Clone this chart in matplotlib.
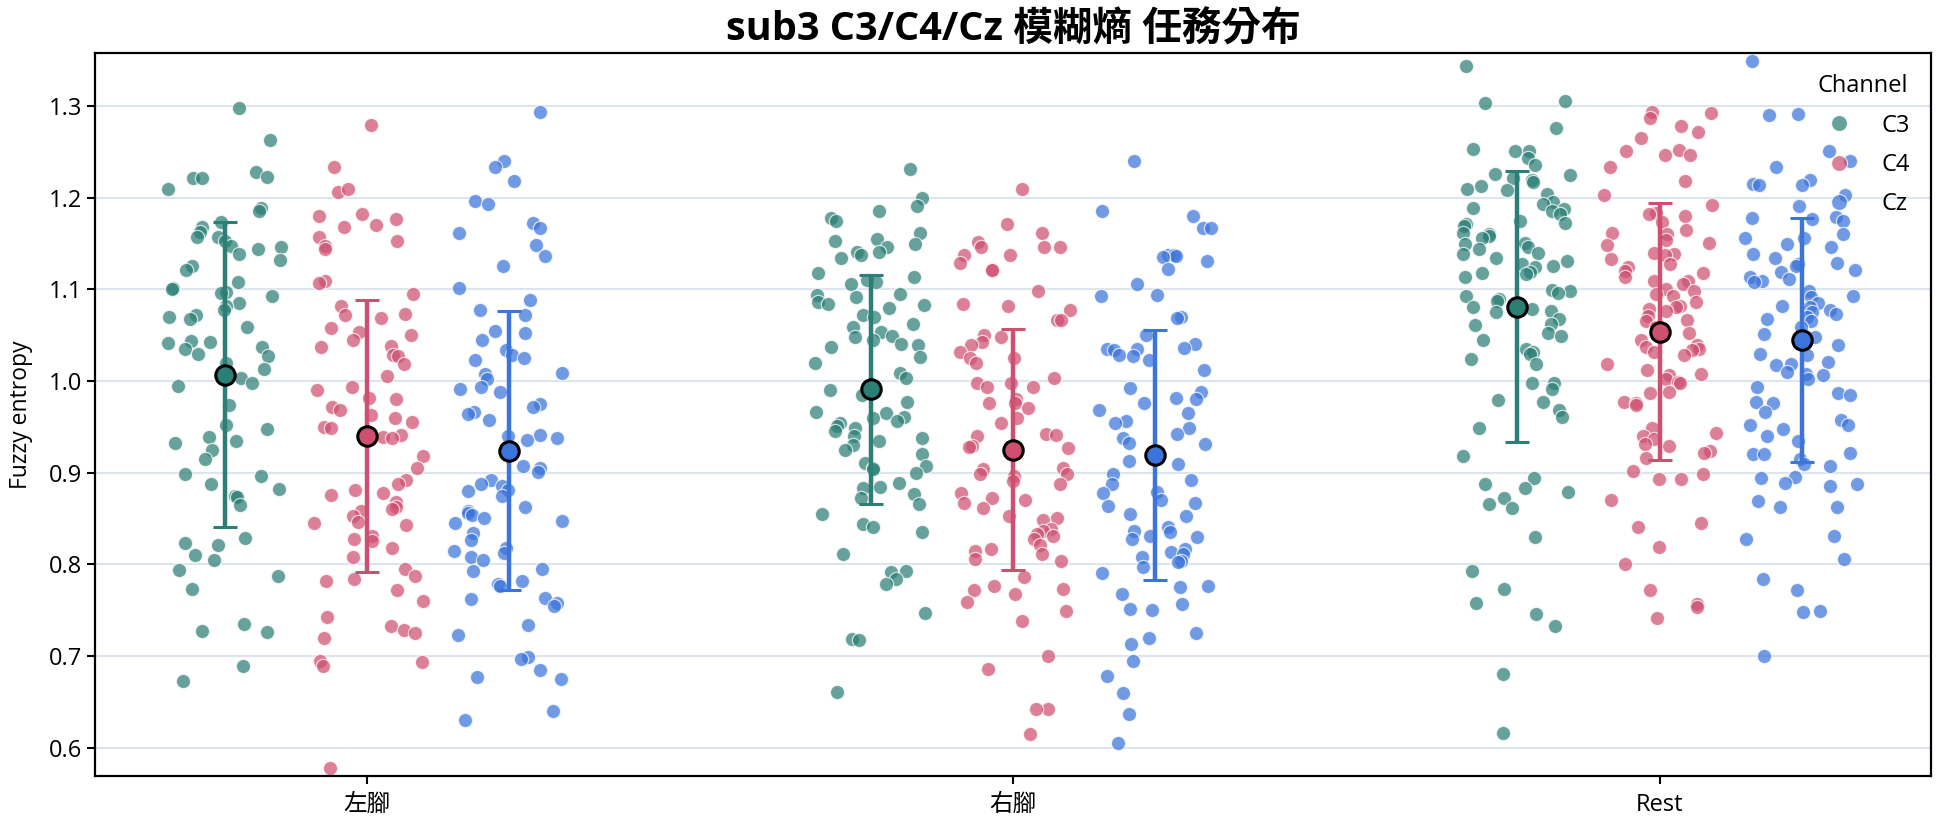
import numpy as np
import matplotlib
matplotlib.use("Agg")
import matplotlib.pyplot as plt
from matplotlib.lines import Line2D

plt.rcParams['font.family'] = ['Open Sans', 'Noto Sans CJK TC', 'DejaVu Sans']

tasks = ["左腳", "右腳", "Rest"]
channels = ["C3", "C4", "Cz"]

# ---- per-trial fuzzy entropy values ----
left_C3 = [1.2975, 1.2635, 1.2285, 1.221, 1.221, 1.2225, 1.209, 1.1885, 1.185, 1.1735,
           1.1685, 1.1625, 1.1575, 1.1575, 1.1525, 1.1475, 1.1465, 1.1435, 1.1385, 1.1315,
           1.125, 1.121, 1.1075, 1.1015, 1.1, 1.0975, 1.0965, 1.0925, 1.085, 1.0815,
           1.0775, 1.0725, 1.07, 1.0675, 1.059, 1.0435, 1.0425, 1.0415, 1.0375, 1.035,
           1.029, 1.0275, 1.02, 1.0135, 1.0035, 0.9975, 0.995, 0.9735, 0.9525, 0.9475,
           0.9385, 0.935, 0.9325, 0.925, 0.915, 0.8985, 0.8965, 0.8875, 0.8825, 0.875,
           0.8735, 0.865, 0.8285, 0.8235, 0.821, 0.81, 0.805, 0.7935, 0.7875, 0.7725,
           0.735, 0.7275, 0.726, 0.6885, 0.6725]
left_C4 = [1.279, 1.2335, 1.206, 1.209, 1.1825, 1.18, 1.1765, 1.17, 1.1685, 1.1575,
           1.1525, 1.1475, 1.1435, 1.109, 1.1065, 1.095, 1.0815, 1.0725, 1.0735, 1.069,
           1.0575, 1.0535, 1.05, 1.045, 1.0385, 1.0375, 1.0285, 1.0275, 1.0185, 1.005,
           0.9935, 0.99, 0.981, 0.98, 0.9715, 0.9685, 0.9625, 0.96, 0.955, 0.95,
           0.9485, 0.9415, 0.9385, 0.9375, 0.9185, 0.9055, 0.8925, 0.8875, 0.881, 0.8775,
           0.876, 0.8675, 0.8625, 0.86, 0.8585, 0.8525, 0.8465, 0.845, 0.8425, 0.831,
           0.8275, 0.825, 0.8175, 0.8075, 0.795, 0.7875, 0.7835, 0.7815, 0.7715, 0.76,
           0.7425, 0.7325, 0.7285, 0.725, 0.72, 0.695, 0.6935, 0.6885, 0.5775]
left_Cz = [1.2935, 1.24, 1.2335, 1.2185, 1.1965, 1.1935, 1.1725, 1.1665, 1.1615, 1.1485,
           1.136, 1.125, 1.1015, 1.0885, 1.0775, 1.0725, 1.055, 1.0525, 1.045, 1.0335,
           1.0285, 1.025, 1.0225, 1.0085, 1.0075, 1.0025, 0.9935, 0.9915, 0.9885, 0.975,
           0.9715, 0.9665, 0.9635, 0.9575, 0.9415, 0.94, 0.9375, 0.936, 0.9075, 0.9055,
           0.9005, 0.8925, 0.8875, 0.885, 0.8815, 0.88, 0.875, 0.8625, 0.8585, 0.8565,
           0.8535, 0.85, 0.8475, 0.845, 0.834, 0.826, 0.8175, 0.815, 0.8125, 0.8075,
           0.805, 0.795, 0.7925, 0.7815, 0.7785, 0.776, 0.7635, 0.7625, 0.7575, 0.755,
           0.7335, 0.7225, 0.6985, 0.6965, 0.685, 0.6775, 0.675, 0.64, 0.63]

right_C3 = [1.2312, 1.2, 1.1909, 1.1859, 1.1779, 1.175, 1.1612, 1.1551, 1.1533, 1.1496,
            1.146, 1.1413, 1.1406, 1.137, 1.1344, 1.1178, 1.1134, 1.1105, 1.108, 1.1062,
            1.0953, 1.0935, 1.0917, 1.0862, 1.0837, 1.0826, 1.0801, 1.0717, 1.0699, 1.062,
            1.0591, 1.0536, 1.0489, 1.0475, 1.0446, 1.0402, 1.0391, 1.0366, 1.0264, 1.0192,
            1.0083, 1.0029, 0.9902, 0.9848, 0.9775, 0.9667, 0.9649, 0.9612, 0.9594, 0.956,
            0.9543, 0.9507, 0.9489, 0.9453, 0.9399, 0.938, 0.9344, 0.9301, 0.9243, 0.9199,
            0.9109, 0.9072, 0.9054, 0.9036, 0.9, 0.8891, 0.8844, 0.8837, 0.8764, 0.8721,
            0.8656, 0.8547, 0.8438, 0.8402, 0.8348, 0.8112, 0.7931, 0.7913, 0.7841, 0.7786,
            0.7467, 0.7188, 0.717, 0.6601]
right_C4 = [1.2094, 1.1714, 1.1612, 1.1514, 1.1467, 1.1467, 1.146, 1.137, 1.138, 1.1286,
            1.1207, 1.1214, 1.0982, 1.0815, 1.0844, 1.0779, 1.067, 1.067, 1.05, 1.0482,
            1.0428, 1.0391, 1.0319, 1.0246, 1.0246, 1.0192, 1.0029, 0.9975, 0.9975, 0.9938,
            0.9931, 0.9801, 0.9764, 0.9757, 0.9703, 0.9594, 0.9543, 0.9417, 0.941, 0.94,
            0.929, 0.9279, 0.9272, 0.9054, 0.9036, 0.8989, 0.8982, 0.8964, 0.8909, 0.8873,
            0.8783, 0.8728, 0.8699, 0.8674, 0.8612, 0.8529, 0.8504, 0.8482, 0.8384, 0.8366,
            0.833, 0.8312, 0.8275, 0.8214, 0.8167, 0.8141, 0.8112, 0.8058, 0.804, 0.7859,
            0.7768, 0.7732, 0.7714, 0.7678, 0.7587, 0.7489, 0.7377, 0.6996, 0.6862, 0.6417,
            0.6417, 0.6145]
right_Cz = [1.2402, 1.1859, 1.1804, 1.1667, 1.167, 1.138, 1.137, 1.1359, 1.1351, 1.1308,
            1.1225, 1.1062, 1.0935, 1.0924, 1.0699, 1.0688, 1.05, 1.0409, 1.0355, 1.0344,
            1.0344, 1.0337, 1.0283, 1.0272, 1.0228, 1.012, 0.992, 0.9884, 0.9812, 0.9801,
            0.9757, 0.9685, 0.9649, 0.956, 0.9543, 0.9489, 0.9417, 0.938, 0.9326, 0.9308,
            0.9127, 0.909, 0.8989, 0.8917, 0.8873, 0.8793, 0.8783, 0.8699, 0.8674, 0.8638,
            0.8547, 0.8529, 0.8402, 0.8366, 0.8348, 0.8312, 0.8293, 0.8275, 0.8167, 0.813,
            0.8112, 0.8076, 0.804, 0.8022, 0.7967, 0.7902, 0.7768, 0.775, 0.7678, 0.7569,
            0.7514, 0.7504, 0.7254, 0.7199, 0.7127, 0.6946, 0.6779, 0.6591, 0.6366, 0.6054]

rest_C3 = [1.3438, 1.3036, 1.3054, 1.2765, 1.2533, 1.2512, 1.2505, 1.2432, 1.236, 1.2259,
           1.2244, 1.2215, 1.2197, 1.2172, 1.2125, 1.21, 1.2089, 1.2042, 1.1955, 1.1933,
           1.189, 1.1872, 1.1853, 1.1817, 1.1745, 1.1727, 1.1709, 1.1691, 1.1618, 1.16,
           1.1582, 1.1564, 1.151, 1.1492, 1.1463, 1.1438, 1.1401, 1.1383, 1.1347, 1.1311,
           1.1275, 1.1257, 1.1239, 1.1184, 1.1174, 1.1166, 1.113, 1.0993, 1.0978, 1.0957,
           1.0931, 1.0895, 1.0877, 1.0805, 1.0787, 1.0768, 1.075, 1.0678, 1.0624, 1.0606,
           1.0523, 1.0486, 1.0443, 1.0353, 1.0316, 1.0291, 1.0244, 1.0183, 0.998, 0.9973,
           0.9908, 0.9792, 0.9774, 0.9684, 0.9611, 0.9489, 0.9181, 0.8938, 0.8873, 0.8837,
           0.8793, 0.8728, 0.8663, 0.8612, 0.8301, 0.7931, 0.7732, 0.7576, 0.746, 0.7322,
           0.6808, 0.6156]
rest_C4 = [1.292, 1.2931, 1.2866, 1.2787, 1.2722, 1.2656, 1.2523, 1.2505, 1.2461, 1.2468,
           1.2331, 1.2179, 1.2027, 1.1926, 1.1835, 1.1817, 1.1799, 1.1738, 1.1644, 1.1618,
           1.1607, 1.1535, 1.151, 1.1484, 1.1401, 1.1383, 1.1376, 1.1329, 1.1275, 1.1246,
           1.1195, 1.1174, 1.113, 1.1094, 1.1087, 1.1058, 1.1004, 1.0986, 1.095, 1.0932,
           1.0859, 1.0823, 1.0805, 1.0787, 1.0769, 1.0714, 1.0667, 1.0653, 1.0588, 1.0523,
           1.0479, 1.0443, 1.0389, 1.0371, 1.0353, 1.0335, 1.0316, 1.028, 1.019, 1.0118,
           1.0081, 1.0063, 1.0027, 0.9991, 0.9973, 0.9882, 0.9864, 0.9774, 0.9756, 0.9738,
           0.9489, 0.9435, 0.9399, 0.9362, 0.9308, 0.929, 0.9236, 0.9217, 0.9163, 0.9018,
           0.8982, 0.8928, 0.8928, 0.8699, 0.8446, 0.8402, 0.8192, 0.8004, 0.7714, 0.7569,
           0.7533, 0.7417]
rest_Cz = [1.3488, 1.291, 1.2902, 1.2512, 1.2396, 1.2331, 1.2197, 1.2143, 1.215, 1.2136,
           1.2027, 1.1908, 1.1788, 1.1781, 1.1763, 1.1745, 1.16, 1.1564, 1.1557, 1.1499,
           1.1463, 1.1391, 1.1347, 1.1293, 1.1275, 1.1257, 1.121, 1.1184, 1.113, 1.1112,
           1.1094, 1.1076, 1.0986, 1.0931, 1.0913, 1.0848, 1.0823, 1.0805, 1.0776, 1.075,
           1.0732, 1.0703, 1.0678, 1.066, 1.0588, 1.0515, 1.0479, 1.0389, 1.0298, 1.028,
           1.0208, 1.019, 1.0172, 1.0099, 1.0081, 1.0063, 1.0027, 0.9937, 0.9864, 0.9846,
           0.9774, 0.9756, 0.9665, 0.9575, 0.9525, 0.9518, 0.9471, 0.9399, 0.9344, 0.9217,
           0.9206, 0.9199, 0.9145, 0.909, 0.9072, 0.8953, 0.8938, 0.8891, 0.8873, 0.8855,
           0.8692, 0.8627, 0.8627, 0.8312, 0.8275, 0.8058, 0.7841, 0.7721, 0.7489, 0.7478,
           0.7004]

# ---- summary (mean and SD) per task ----
mean_C3 = [1.007, 0.991, 1.081]
sd_C3 = [0.166, 0.125, 0.148]
mean_C4 = [0.940, 0.925, 1.054]
sd_C4 = [0.1485, 0.1317, 0.1405]
mean_Cz = [0.924, 0.919, 1.045]
sd_Cz = [0.152, 0.1366, 0.133]

data = {
    "C3": [left_C3, right_C3, rest_C3],
    "C4": [left_C4, right_C4, rest_C4],
    "Cz": [left_Cz, right_Cz, rest_Cz],
}
means = {"C3": mean_C3, "C4": mean_C4, "Cz": mean_Cz}
sds = {"C3": sd_C3, "C4": sd_C4, "Cz": sd_Cz}

colors = {"C3": "#2b7f75", "C4": "#cf4f70", "Cz": "#3b74da"}
offsets = {"C3": -0.22, "C4": 0.0, "Cz": 0.22}

fig = plt.figure(figsize=(19.44, 8.27), dpi=100)
ax = fig.add_axes([0.0491, 0.0617, 0.9442, 0.8743])

rng = np.random.default_rng(7)
for ch in channels:
    for i, vals in enumerate(data[ch]):
        vals = np.asarray(vals)
        x = i + offsets[ch] + rng.uniform(-0.088, 0.088, len(vals))
        ax.scatter(x, vals, s=105, color=colors[ch], alpha=0.72,
                   edgecolors="white", linewidths=0.9, zorder=2)

for ch in channels:
    xs = np.arange(len(tasks)) + offsets[ch]
    ax.errorbar(xs, means[ch], yerr=sds[ch], fmt="none", ecolor=colors[ch],
                elinewidth=3.2, capsize=8.5, capthick=2.2, zorder=3)
    ax.plot(xs, means[ch], "o", ls="none", ms=14, mfc=colors[ch], mec="black",
            mew=2.2, zorder=4)

ax.set_xlim(-0.42, 2.42)
ax.set_ylim(0.569, 1.358)
ax.set_xticks(range(len(tasks)))
ax.set_xticklabels(tasks)
ax.set_yticks(np.arange(0.6, 1.31, 0.1))
ax.set_yticklabels([f"{v:.1f}" for v in np.arange(0.6, 1.31, 0.1)])
ax.tick_params(axis="both", labelsize=17, length=6, width=1.5, color="black")
ax.tick_params(axis="x", pad=6)
ax.yaxis.grid(True, color="#dce5ee", linewidth=1.5)
ax.set_axisbelow(True)
for sp in ax.spines.values():
    sp.set_linewidth(1.6)
    sp.set_color("black")

ax.set_ylabel("Fuzzy entropy", fontsize=16.5)
ax.yaxis.set_label_coords(-0.034, 0.5)
ax.set_title("sub3 C3/C4/Cz 模糊熵 任務分布", fontsize=28.5, fontweight="bold", pad=9)

handles = [Line2D([], [], marker="o", ls="none", ms=11.5, markerfacecolor=colors[ch],
                  markeredgecolor="white", markeredgewidth=0.9, alpha=0.72)
           for ch in channels]
leg = ax.legend(handles, channels, title="Channel", loc="upper right", frameon=False,
                fontsize=17, title_fontsize=17, labelspacing=0.65)

fig.savefig("out.png", dpi=100)
